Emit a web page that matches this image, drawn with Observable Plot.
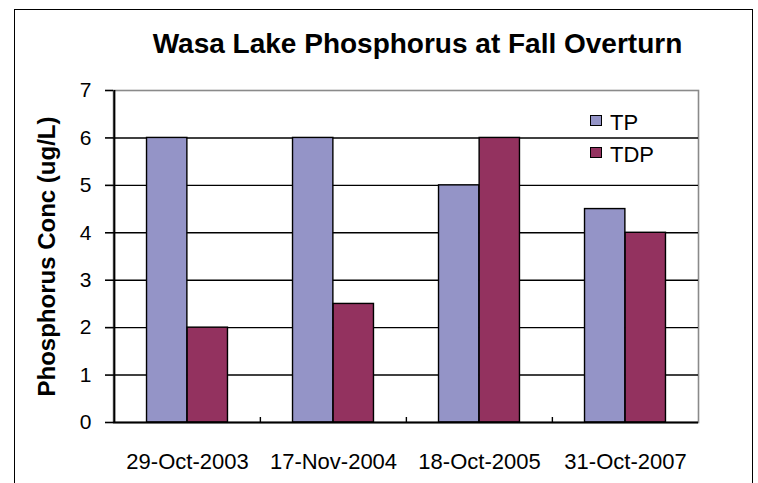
<!DOCTYPE html>
<html><head><meta charset="utf-8">
<script src="https://cdn.jsdelivr.net/npm/d3@7"></script>
<script src="https://cdn.jsdelivr.net/npm/@observablehq/plot@0.6"></script>
<style>
body{margin:0;background:#fff;overflow:hidden;font-family:"Liberation Sans",Arial,sans-serif;}
#wrap{position:relative;width:758px;height:483px;overflow:hidden;background:#fff;}
#wrap svg{position:absolute;left:0;top:0;}
#border{position:absolute;left:14px;top:9px;width:739px;height:530px;border:1.5px solid #000;box-sizing:border-box;}
#title{position:absolute;left:0;top:30px;width:835px;text-align:center;font-weight:bold;font-size:28px;line-height:1;color:#000;white-space:nowrap;}
.lg-sw{position:absolute;width:12px;height:11px;border:1.5px solid #000;box-sizing:border-box;}
.lg-tx{position:absolute;font-size:22px;line-height:1;color:#000;}
</style></head>
<body>
<div id="wrap">
  <div id="border"></div>
  <div id="title"></div>
</div>
<script>
const titleText = "Wasa Lake Phosphorus at Fall Overturn";
const yLabel = "Phosphorus Conc (ug/L)";
const dates = ["29-Oct-2003", "17-Nov-2004", "18-Oct-2005", "31-Oct-2007"];
const seriesNames = ["TP", "TDP"];
const tpValues = [6, 6, 5, 4.5];
const tdpValues = [2, 2.5, 6, 4];
const yTicks = [0, 1, 2, 3, 4, 5, 6, 7];
const colors = ["#9494C7", "#93325F"];

const W = 758, H = 483;
const mL = 113, mR = 60, mT = 90, mB = 61;
const plotW = W - mL - mR, plotH = H - mT - mB;
const bw = plotW / dates.length;
const barW = 40.6;
const outerGap = (bw - 2 * barW) / 2;

const rows = dates.map((d, i) => ({date: d, TP: tpValues[i], TDP: tdpValues[i]}));

document.getElementById("title").textContent = titleText;

const chart = Plot.plot({
  width: W, height: H,
  marginLeft: mL, marginRight: mR, marginTop: mT, marginBottom: mB,
  style: {fontFamily: "'Liberation Sans', Arial, sans-serif", color: "#000", background: "transparent"},
  x: {type: "band", domain: dates, padding: 0},
  y: {domain: [0, 7]},
  marks: [
    Plot.frame({stroke: "#8a8a8a", strokeWidth: 1.6}),
    Plot.ruleY(yTicks.filter(t => t > 0 && t < 7), {stroke: "#000", strokeWidth: 1.4}),
    Plot.barY(rows, {x: "date", y: "TP", fill: colors[0], stroke: "#000", strokeWidth: 1.4, insetLeft: outerGap, insetRight: outerGap + barW}),
    Plot.barY(rows, {x: "date", y: "TDP", fill: colors[1], stroke: "#000", strokeWidth: 1.4, insetLeft: outerGap + barW, insetRight: outerGap}),
    Plot.ruleX([dates[0]], {x: d => d, dx: -bw / 2, stroke: "#000", strokeWidth: 2}),
    Plot.ruleX(dates.slice(1), {x: d => d, dx: -bw / 2, stroke: "#000", strokeWidth: 1.4, insetTop: plotH - 5}),
    Plot.ruleY([0], {stroke: "#000", strokeWidth: 2}),
    Plot.axisY({ticks: yTicks, tickFormat: d => String(d), tickSize: 8, tickPadding: 14, fontSize: 21, label: null, strokeWidth: 1.6}),
    Plot.axisX({tickSize: 0, tickPadding: 31, fontSize: 22, label: null}),
    Plot.text([yLabel], {frameAnchor: "left", dx: -66, rotate: -90, textAnchor: "middle", fontWeight: "bold", fontSize: 24, fill: "#000"})
  ]
});
document.getElementById("wrap").appendChild(chart);

// legend
const wrap = document.getElementById("wrap");
const legTop = [115, 147];
seriesNames.forEach((name, i) => {
  const sw = document.createElement("div");
  sw.className = "lg-sw";
  sw.style.left = "590px"; sw.style.top = legTop[i] + "px"; sw.style.background = colors[i];
  wrap.appendChild(sw);
  const tx = document.createElement("div");
  tx.className = "lg-tx";
  tx.style.left = "610px"; tx.style.top = (legTop[i] - 3) + "px";
  tx.textContent = name;
  wrap.appendChild(tx);
});
</script>
</body></html>
